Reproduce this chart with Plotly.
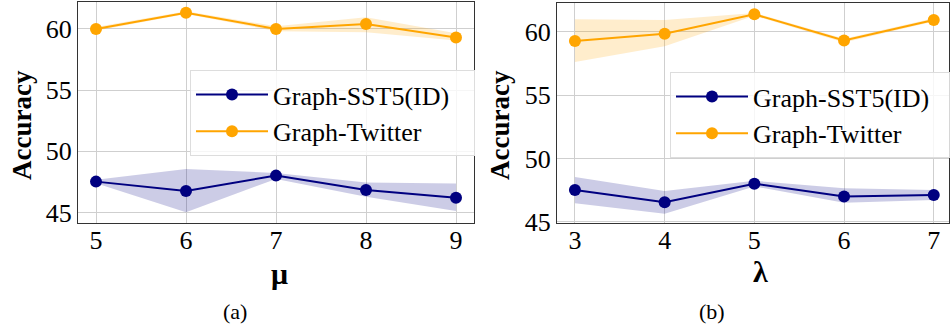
import plotly.graph_objects as go

# ---- data (a): mu ----
mu_vals = [5, 6, 7, 8, 9]
a_sst5_mean = [47.53, 46.77, 48.02, 46.85, 46.22]
a_sst5_low = [47.40, 45.03, 47.75, 46.30, 45.14]
a_sst5_high = [47.68, 48.56, 48.24, 47.45, 47.37]
a_tw_mean = [60.00, 61.33, 60.00, 60.40, 59.30]
a_tw_low = [59.85, 61.22, 59.82, 59.72, 59.05]
a_tw_high = [60.15, 61.45, 60.22, 60.95, 59.65]

# ---- data (b): lambda ----
lam_vals = [3, 4, 5, 6, 7]
b_sst5_mean = [47.52, 46.55, 48.02, 47.00, 47.13]
b_sst5_low = [46.47, 45.65, 47.80, 46.52, 46.73]
b_sst5_high = [48.55, 47.44, 48.25, 47.66, 47.52]
b_tw_mean = [59.27, 59.84, 61.37, 59.30, 60.92]
b_tw_low = [57.60, 58.85, 61.25, 59.15, 60.80]
b_tw_high = [60.98, 60.92, 61.48, 59.45, 61.05]

series_names = ["Graph-SST5(ID)", "Graph-Twitter"]
x_titles = ["μ", "λ"]
captions = ["(a)", "(b)"]
y_ticks = [45, 50, 55, 60]

NAVY = "#000080"
ORANGE = "#FFA500"
NAVY_FILL = "rgba(0,0,128,0.2)"
ORANGE_FILL = "rgba(255,165,0,0.2)"
FONT = "Liberation Serif"

W, H = 950, 327
fig = go.Figure()

panels = [
    dict(x=mu_vals, data=[(a_sst5_mean, a_sst5_low, a_sst5_high), (a_tw_mean, a_tw_low, a_tw_high)],
         xa="x", ya="y", legend="legend"),
    dict(x=lam_vals, data=[(b_sst5_mean, b_sst5_low, b_sst5_high), (b_tw_mean, b_tw_low, b_tw_high)],
         xa="x2", ya="y2", legend="legend2"),
]
colors = [NAVY, ORANGE]
fills = [NAVY_FILL, ORANGE_FILL]

for p in panels:
    xs = p["x"]
    for (mean, low, high), name, col, fc in zip(p["data"], series_names, colors, fills):
        fig.add_trace(go.Scatter(
            x=list(xs) + list(xs)[::-1], y=list(high) + list(low)[::-1],
            fill="toself", fillcolor=fc, line=dict(width=0), mode="lines",
            hoverinfo="skip", showlegend=False, xaxis=p["xa"], yaxis=p["ya"]))
    for (mean, low, high), name, col, fc in zip(p["data"], series_names, colors, fills):
        fig.add_trace(go.Scatter(
            x=xs, y=mean, name=name + "   ", mode="lines+markers",
            line=dict(color=col, width=2), marker=dict(color=col, size=12),
            xaxis=p["xa"], yaxis=p["ya"], legend=p["legend"]))

def px_x(v):
    return v / W

def px_y(v):
    return 1 - v / H

def ax(**kw):
    d = dict(showgrid=True, gridcolor="#cfcfcf", gridwidth=1, zeroline=False,
             showline=True, linecolor="#333333", linewidth=1.2, mirror=True,
             ticks="", tickmode="array", automargin=False,
             tickfont=dict(family="Liberation Serif", size=26, color="#000000"))
    d.update(kw)
    return d

fig.update_layout(
    width=W, height=H, margin=dict(l=0, r=0, t=0, b=0, autoexpand=False),
    plot_bgcolor="white", paper_bgcolor="white",
    font=dict(family=FONT, size=26, color="black"),
    xaxis=ax(domain=[px_x(78), px_x(474)], range=[4.8, 9.2], tickvals=mu_vals,
             ticktext=[str(v) for v in mu_vals], anchor="y", ticklabelstandoff=-6),
    yaxis=ax(domain=[px_y(223), px_y(2)], range=[44.15, 62.2], tickvals=y_ticks,
             ticktext=[str(v) for v in y_ticks], anchor="x"),
    xaxis2=ax(domain=[px_x(557), px_x(949)], range=[2.8, 7.17], tickvals=lam_vals,
              ticktext=[str(v) for v in lam_vals], anchor="y2", ticklabelstandoff=-6),
    yaxis2=ax(domain=[px_y(223), px_y(3)], range=[44.92, 62.26], tickvals=y_ticks,
              ticktext=[str(v) for v in y_ticks], anchor="x2"),
    legend=dict(x=px_x(190), y=px_y(70), xanchor="left", yanchor="top",
                bgcolor="rgba(255,255,255,0.8)", bordercolor="#dddddd", borderwidth=1,
                font=dict(family=FONT, size=26, color="black"), itemwidth=72),
    legend2=dict(x=px_x(670), y=px_y(72), xanchor="left", yanchor="top",
                 bgcolor="rgba(255,255,255,0.8)", bordercolor="#dddddd", borderwidth=1,
                 font=dict(family=FONT, size=26, color="black"), itemwidth=72),
)

annos = [
    dict(text="<b>Accuracy</b>", x=px_x(22), y=px_y(125), textangle=-90, size=27),
    dict(text="<b>Accuracy</b>", x=px_x(500), y=px_y(125), textangle=-90, size=27),
    dict(text="<b>" + x_titles[0] + "</b>", x=px_x(279), y=px_y(273), textangle=0, size=30),
    dict(text="<b>" + x_titles[1] + "</b>", x=px_x(760), y=px_y(271), textangle=0, size=30),
    dict(text=captions[0], x=px_x(235), y=px_y(311), textangle=0, size=22),
    dict(text=captions[1], x=px_x(712), y=px_y(311), textangle=0, size=22),
]
for a in annos:
    fig.add_annotation(text=a["text"], x=a["x"], y=a["y"], xref="paper", yref="paper",
                       xanchor="center", yanchor="middle", showarrow=False, textangle=a["textangle"],
                       font=dict(family=FONT, size=a["size"], color="black"))

fig.write_html("out.html", config={"displayModeBar": False},
               post_script="document.body.style.margin='0';document.body.style.overflow='hidden';")
